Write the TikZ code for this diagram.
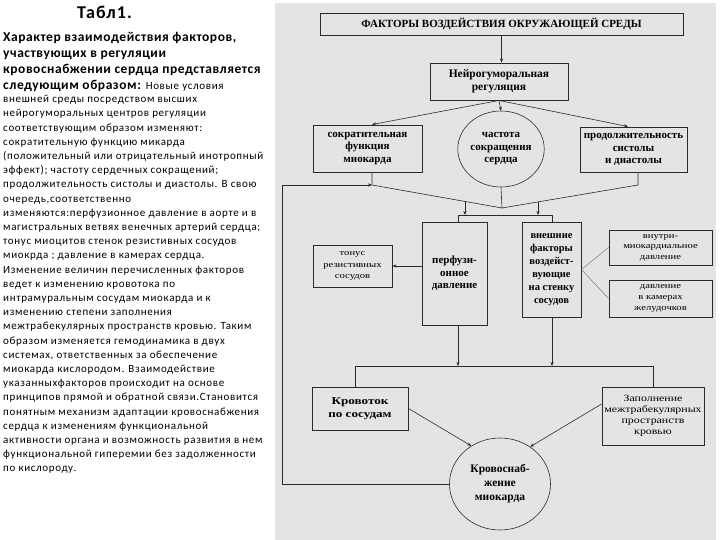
\documentclass[tikz,border=0pt]{standalone}
\usepackage{fontspec}
\setmainfont{Carlito}
\newfontfamily\dfont{Liberation Serif}
\newfontfamily\wfont[FakeStretch=1.25]{Liberation Serif}
\usetikzlibrary{arrows.meta,calc,shapes.geometric}
\definecolor{panel}{HTML}{E4E4E4}
\definecolor{ink}{HTML}{2A2A2A}
\definecolor{thin}{HTML}{6A6A6A}
\begin{document}
\begin{tikzpicture}[x=1pt,y=-1pt,
  box/.style={draw=ink, line width=0.9pt, fill=panel, inner sep=1pt, align=center},
  oval/.style={draw=ink, line width=0.6pt, ellipse, fill=panel, inner sep=0pt, align=center},
  conn/.style={draw=ink, line width=0.6pt},
  arr/.style={conn, -{Stealth[length=4pt,width=3.2pt]}},
  fine/.style={draw=thin, line width=0.4pt},
  bsf/.style 2 args={font=\dfont\bfseries\fontsize{#1}{#2}\selectfont},
  wsf/.style 2 args={font=\wfont\fontsize{#1}{#2}\selectfont},
  wbsf/.style 2 args={font=\wfont\bfseries\fontsize{#1}{#2}\selectfont}
]
\useasboundingbox (0,0) rectangle (720,540);
\fill[panel] (275,3) rectangle (716,540);

% ---- left text ----
\node[anchor=north west, inner sep=0, font=\bfseries\fontsize{18}{20}\selectfont\addfontfeature{LetterSpace=6}] (title) at (77,6) {Табл1.};
\node[anchor=north west, inner sep=0, align=left, font=\bfseries\fontsize{13.5}{16}\selectfont\addfontfeature{LetterSpace=4}] (lead) at (3,32) {Характер взаимодействия факторов,\\участвующих в регуляции\\кровоснабжении сердца представляется\\следующим образом: {\mdseries\fontsize{11}{14}\selectfont\addfontfeature{LetterSpace=6}Новые условия}};
\node[anchor=north west, inner sep=0, align=left, font=\fontsize{11}{14.2}\selectfont\addfontfeature{LetterSpace=6}] (body) at (3,95) {внешней среды посредством высших\\
нейрогуморальных центров регуляции\\
соответствующим образом изменяют:\\
сократительную функцию микарда\\
(положительный или отрицательный инотропный\\
эффект); частоту сердечных сокращений;\\
продолжительность систолы и диастолы. В свою\\
очередь,соответственно\\
изменяются:перфузионное давление в аорте и в\\
магистральных ветвях венечных артерий сердца;\\
тонус миоцитов стенок резистивных сосудов\\
миокрда ; давление в камерах сердца.\\
Изменение величин перечисленных факторов\\
ведет к изменению кровотока по\\
интрамуральным сосудам миокарда и к\\
изменению степени заполнения\\
межтрабекулярных пространств кровью. Таким\\
образом изменяется гемодинамика в двух\\
системах, ответственных за обеспечение\\
миокарда кислородом. Взаимодействие\\
указанныхфакторов происходит на основе\\
принципов прямой и обратной связи.Становится\\
понятным механизм адаптации кровоснабжения\\
сердца к изменениям функциональной\\
активности органа и возможность развития в нем\\
функциональной гиперемии без задолженности\\
по кислороду.};

% ---- diagram nodes ----
\node[box, bsf={11}{12}, minimum width=363pt, minimum height=22pt] (top) at (501.5,24) {ФАКТОРЫ ВОЗДЕЙСТВИЯ ОКРУЖАЮЩЕЙ СРЕДЫ};
\node[box, bsf={11.5}{13}, minimum width=138pt, minimum height=37pt] (neuro) at (499,81.5) {Нейрогуморальная\\регуляция};
\node[box, bsf={11}{12.5}, minimum width=109pt, minimum height=47pt] (sokr) at (367.5,148.5) {сократительная\\функция\\миокарда};
\node[oval, bsf={11}{12.5}, minimum width=84pt, minimum height=76pt] (chast) at (501,149) {частота\\сокращения\\сердца};
\node[box, bsf={11}{12.5}, minimum width=107pt, minimum height=45pt] (prod) at (633.5,149.5) {продолжительность\\систолы\\и диастолы};
\node[box, wsf={8.5}{11.3}, minimum width=79pt, minimum height=42pt] (tonus) at (352.5,266) {тонус\\резистивных\\сосудов};
\node[box, bsf={11}{12.5}, minimum width=65pt, minimum height=103pt] (perf) at (454.5,273.5) {перфузи-\\онное\\давление};
\node[box, bsf={10.5}{13}, minimum width=59pt, minimum height=95pt] (ext) at (551.5,269.5) {внешние\\факторы\\воздейст-\\вующие\\на стенку\\сосудов};
\node[box, wsf={8.5}{10.5}, minimum width=103pt, minimum height=35pt] (vnutri) at (660.5,247.5) {внутри-\\миокардиальное\\давление};
\node[box, wsf={8.5}{11}, minimum width=103pt, minimum height=37pt] (davl) at (660.5,298.5) {давление\\в камерах\\желудочков};
\node[box, wbsf={10.5}{13}, minimum width=96pt, minimum height=43pt] (krov) at (360,408.5) {Кровоток\\по сосудам};
\node[box, wsf={9.5}{11}, minimum width=102pt, minimum height=58pt] (zapol) at (653,416) {Заполнение\\межтрабекулярных\\пространств\\кровью};
\node[oval, bsf={11.5}{14}, minimum width=101pt, minimum height=92pt] (krsn) at (500,484) {Кровоснаб-\\жение\\миокарда};

% ---- coordinates ----
\coordinate (J1) at (372,185);
\coordinate (J2) at (638,185);
\coordinate (J0) at (502,208);
\coordinate (B1) at (458,215);
\coordinate (B2) at (552,215);
\coordinate (K1) at (355,366);
\coordinate (K2) at (653,366);
\coordinate (F) at (282,0);
\coordinate (D1) at ($(J1)!0.715!(J0)$);
\coordinate (D2) at ($(J2)!0.735!(J0)$);

% ---- connectors ----
\draw[arr] (top.south) -- (top.south |- neuro.north);
\draw[arr] (neuro.south) -- ([xshift=4.5pt]sokr.north);
\draw[arr] (neuro.south) -- (chast.north);
\draw[arr] (neuro.south) -- ([xshift=-5.5pt]prod.north);
\draw[conn] ([xshift=4.5pt]sokr.south) -- (J1) -- (J0) -- (chast.south);
\draw[conn] ([xshift=4.5pt]prod.south) -- (J2) -- (J0);
\draw[arr] (D1) -- (D1 |- B1);
\draw[arr] (D2) -- (D2 |- B1);
\draw[conn] (perf.north -| B1) -- (B1) -- (B2) -- (ext.north -| B2);
\draw[arr] (perf.west |- tonus.east) -- (tonus.east);
\draw[fine] (ext.east) -- (vnutri.west);
\draw[fine] (ext.east) -- (davl.west);
\draw[arr] (B1 |- perf.south) -- (B1 |- K1);
\draw[arr] (B2 |- ext.south) -- (B2 |- K1);
\draw[conn] (krov.north -| K1) -- (K1) -- (K2) -- (zapol.north -| K2);
\draw[arr] (krov.east) -- (krsn.127);
\draw[arr] ([yshift=12pt]zapol.west) -- (krsn.51);
\draw[arr] (krsn.west) -- (krsn.west -| F) -- (F |- J1) -- (J1);
\end{tikzpicture}
\end{document}
